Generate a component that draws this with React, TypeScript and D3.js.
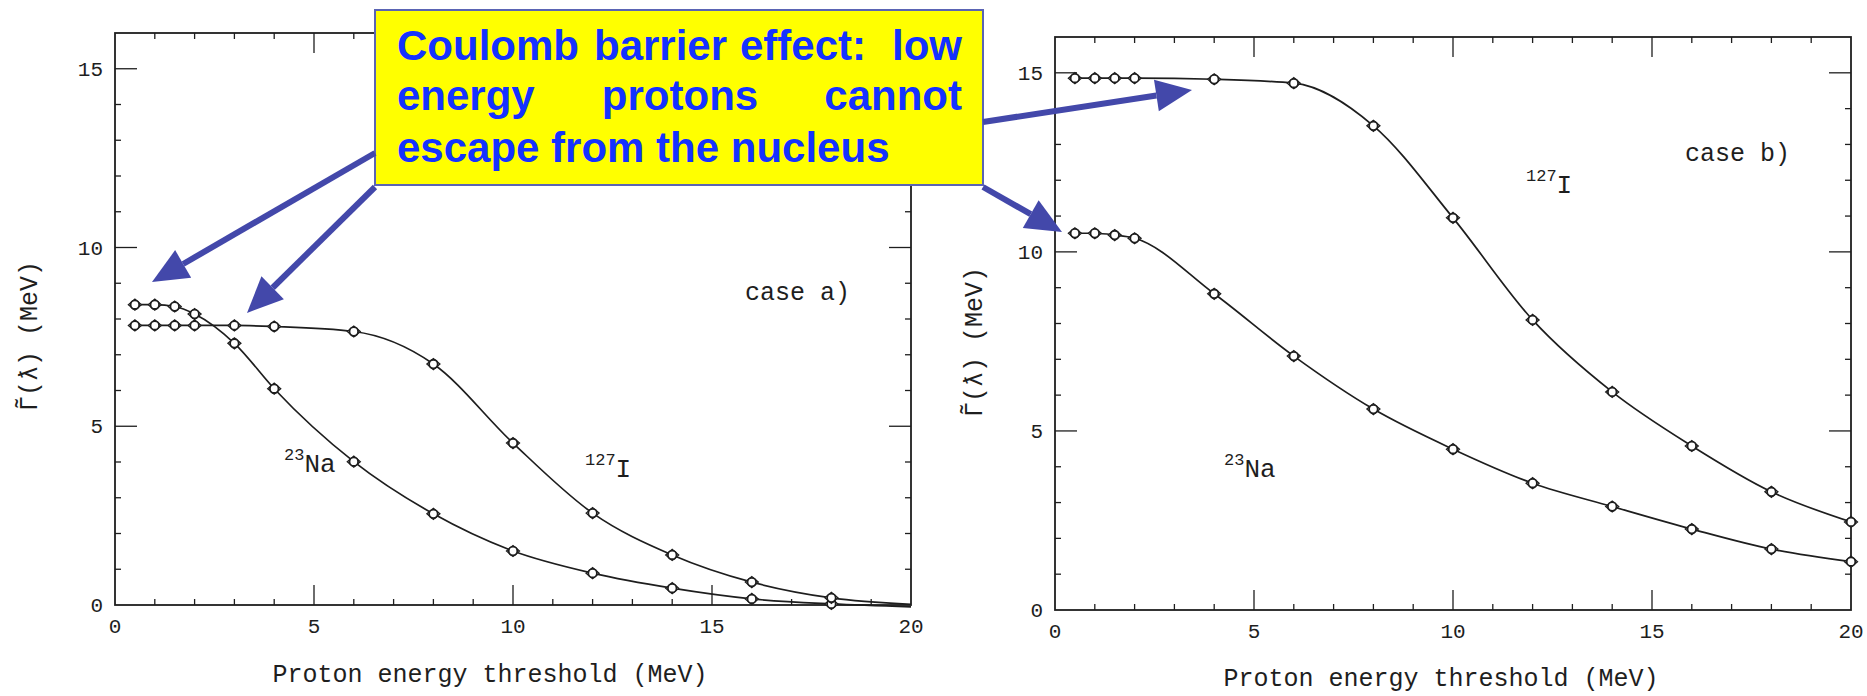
import React from 'react';
import * as d3 from 'd3';

// proton energy thresholds (MeV) where the points were computed
const energiesA = [0.5, 1, 1.5, 2, 3, 4, 6, 8, 10, 12, 14, 16, 18, 20];
const naCaseA = [8.4, 8.4, 8.35, 8.14, 7.32, 6.05, 4.01, 2.55, 1.51, 0.89, 0.47, 0.17, 0.03, -0.05];
const iCaseA = [7.82, 7.82, 7.82, 7.82, 7.82, 7.79, 7.65, 6.74, 4.53, 2.57, 1.4, 0.64, 0.2, 0.02];

const energiesB = [0.5, 1, 1.5, 2, 4, 6, 8, 10, 12, 14, 16, 18, 20];
const naCaseB = [10.52, 10.52, 10.47, 10.38, 8.83, 7.09, 5.61, 4.49, 3.54, 2.89, 2.26, 1.7, 1.35];
const iCaseB = [14.85, 14.85, 14.85, 14.85, 14.82, 14.71, 13.52, 10.95, 8.1, 6.09, 4.58, 3.3, 2.46];

const xTickLabels = [0, 5, 10, 15, 20];
const yTickLabels = [0, 5, 10, 15];

const calloutWords = [
  { text: 'Coulomb', x: 397, y: 60, anchor: 'start' },
  { text: 'barrier', x: 594, y: 60, anchor: 'start' },
  { text: 'effect:', x: 740, y: 60, anchor: 'start' },
  { text: 'low', x: 962, y: 60, anchor: 'end' },
  { text: 'energy', x: 397, y: 110, anchor: 'start' },
  { text: 'protons', x: 680, y: 110, anchor: 'middle' },
  { text: 'cannot', x: 962, y: 110, anchor: 'end' },
  { text: 'escape from the nucleus', x: 397, y: 162, anchor: 'start' },
];

const arrows = [
  [375, 153, 152, 282],
  [375, 187, 247, 313],
  [983, 122, 1192, 90],
  [983, 187, 1062, 232],
];

const MONO = '"Liberation Mono", "DejaVu Sans Mono", monospace';
const INK = '#1e1e1e';

type Series = { xs: number[]; ys: number[]; markLast: boolean };

interface PanelProps {
  left: number;
  right: number;
  bottom: number;
  top: number;
  series: Series[];
  caseText: string;
  casePos: [number, number];
  iPos: [number, number];
  naPos: [number, number];
  yLabelX: number;
  yLabelY: number;
  titleX: number;
  titleY: number;
}

const Marker = ({ x, y }: { x: number; y: number }) => (
  <g>
    <path
      d={`M${x - 6.5},${y} L${x},${y - 5.5} L${x + 6.5},${y} L${x},${y + 5.5} Z`}
      fill="white"
      stroke={INK}
      strokeWidth={1.3}
    />
    <circle cx={x} cy={y} r={4.3} fill="white" stroke={INK} strokeWidth={1.8} />
  </g>
);

const Panel: React.FC<PanelProps> = (p) => {
  const x = d3.scaleLinear().domain([0, 20]).range([p.left, p.right]);
  const y = d3.scaleLinear().domain([0, 16]).range([p.bottom, p.top]);

  const xMinor = d3.range(1, 20);
  const yMinor = d3.range(1, 16);

  return (
    <g>
      {/* frame */}
      <rect
        x={p.left}
        y={p.top}
        width={p.right - p.left}
        height={p.bottom - p.top}
        fill="none"
        stroke={INK}
        strokeWidth={1.8}
      />
      {/* ticks, pointing inward on all four sides */}
      {xMinor.map((v) => {
        const len = v % 5 === 0 ? 20 : 6;
        return (
          <g key={'xt' + v}>
            <line x1={x(v)} x2={x(v)} y1={p.bottom} y2={p.bottom - len} stroke={INK} strokeWidth={1.3} />
            <line x1={x(v)} x2={x(v)} y1={p.top} y2={p.top + len} stroke={INK} strokeWidth={1.3} />
          </g>
        );
      })}
      {yMinor.map((v) => {
        const len = v % 5 === 0 ? 22 : 6;
        return (
          <g key={'yt' + v}>
            <line x1={p.left} x2={p.left + len} y1={y(v)} y2={y(v)} stroke={INK} strokeWidth={1.3} />
            <line x1={p.right} x2={p.right - len} y1={y(v)} y2={y(v)} stroke={INK} strokeWidth={1.3} />
          </g>
        );
      })}
      {xTickLabels.map((v) => (
        <text
          key={'xl' + v}
          x={x(v)}
          y={p.bottom + 28}
          textAnchor="middle"
          fontFamily={MONO}
          fontSize={21}
          fill={INK}
        >
          {v}
        </text>
      ))}
      {yTickLabels.map((v) => (
        <text
          key={'yl' + v}
          x={p.left - 12}
          y={y(v) + 7}
          textAnchor="end"
          fontFamily={MONO}
          fontSize={21}
          fill={INK}
        >
          {v}
        </text>
      ))}
      {/* curves */}
      {p.series.map((s, k) => {
        const path = d3
          .line<number>()
          .x((_, i) => x(s.xs[i]))
          .y((d) => y(d))
          .curve(d3.curveMonotoneX)(s.ys);
        return <path key={'c' + k} d={path || ''} fill="none" stroke={INK} strokeWidth={1.7} />;
      })}
      {p.series.map((s, k) =>
        s.ys.map((v, i) =>
          !s.markLast && i === s.ys.length - 1 ? null : (
            <Marker key={`m${k}-${i}`} x={x(s.xs[i])} y={y(v)} />
          )
        )
      )}
      {/* labels */}
      <text x={p.casePos[0]} y={p.casePos[1]} fontFamily={MONO} fontSize={25} fill={INK}>
        {p.caseText}
      </text>
      <text x={p.iPos[0]} y={p.iPos[1]} fontFamily={MONO} fill={INK}>
        <tspan fontSize={17} dy={-12}>127</tspan>
        <tspan fontSize={26} dy={12}>I</tspan>
      </text>
      <text x={p.naPos[0]} y={p.naPos[1]} fontFamily={MONO} fill={INK}>
        <tspan fontSize={17} dy={-12}>23</tspan>
        <tspan fontSize={26} dy={12}>Na</tspan>
      </text>
      <text
        transform={`translate(${p.yLabelX},${p.yLabelY}) rotate(-90)`}
        textAnchor="middle"
        fontFamily={MONO}
        fontSize={25}
        fill={INK}
      >
        Γ̃(ƛ) (MeV)
      </text>
      <text
        x={p.titleX}
        y={p.titleY}
        textAnchor="middle"
        fontFamily={MONO}
        fontSize={25}
        fill={INK}
      >
        Proton energy threshold (MeV)
      </text>
    </g>
  );
};

const Arrow = ({ a }: { a: number[] }) => {
  const [x1, y1, x2, y2] = a;
  const ang = Math.atan2(y2 - y1, x2 - x1);
  const headLen = 36;
  const half = 16;
  const bx = x2 - Math.cos(ang) * headLen;
  const by = y2 - Math.sin(ang) * headLen;
  const nx = -Math.sin(ang);
  const ny = Math.cos(ang);
  return (
    <g>
      <line x1={x1} y1={y1} x2={bx} y2={by} stroke="#4348aa" strokeWidth={6} />
      <polygon
        points={`${x2},${y2} ${bx + nx * half},${by + ny * half} ${bx - nx * half},${by - ny * half}`}
        fill="#4348aa"
      />
    </g>
  );
};

export default function App() {
  return (
    <svg
      width={1867}
      height={696}
      style={{ position: 'absolute', left: 0, top: 0, background: 'white' }}
    >
      <rect width={1867} height={696} fill="white" />
      <Panel
        left={115}
        right={911}
        bottom={605}
        top={33}
        series={[
          { xs: energiesA, ys: naCaseA, markLast: false },
          { xs: energiesA, ys: iCaseA, markLast: false },
        ]}
        caseText="case a)"
        casePos={[745, 300]}
        iPos={[585, 477]}
        naPos={[284, 472]}
        yLabelX={37}
        yLabelY={336}
        titleX={490}
        titleY={682}
      />
      <Panel
        left={1055}
        right={1851}
        bottom={610}
        top={37}
        series={[
          { xs: energiesB, ys: naCaseB, markLast: true },
          { xs: energiesB, ys: iCaseB, markLast: true },
        ]}
        caseText="case b)"
        casePos={[1685, 161]}
        iPos={[1526, 193]}
        naPos={[1224, 477]}
        yLabelX={982}
        yLabelY={342}
        titleX={1441}
        titleY={686}
      />
      {/* callout box */}
      <rect x={375} y={10} width={608} height={175} fill="#ffff00" stroke="#5a64b4" strokeWidth={2} />
      {calloutWords.map((w, i) => (
        <text
          key={i}
          x={w.x}
          y={w.y}
          textAnchor={w.anchor as any}
          fontFamily='"Liberation Sans", Arial, sans-serif'
          fontWeight="bold"
          fontSize={42}
          fill="#1432ff"
        >
          {w.text}
        </text>
      ))}
      {arrows.map((a, i) => (
        <Arrow key={i} a={a} />
      ))}
    </svg>
  );
}
